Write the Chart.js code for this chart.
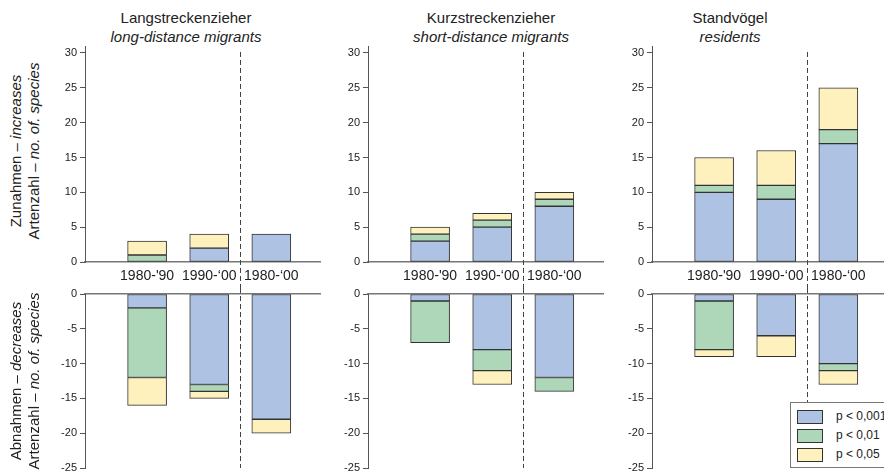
<!DOCTYPE html>
<html><head><meta charset="utf-8">
<script src="https://cdn.jsdelivr.net/npm/chart.js@4.4.0/dist/chart.umd.min.js"></script>
<style>
html,body{margin:0;padding:0}
body{width:884px;height:474px;overflow:hidden;background:#fff;font-family:"Liberation Sans",Arial,sans-serif;position:relative;color:#222}
canvas{position:absolute}
.title{position:absolute;text-align:center;font-size:15px;line-height:19px;white-space:nowrap;transform:translateX(-50%)}
.ylab{position:absolute;width:240px;height:36px;font-size:15px;line-height:18px;white-space:nowrap;text-align:center;transform:translate(-50%,-50%) rotate(-90deg)}
.legend{position:absolute;left:790px;top:402px;width:110px;height:64px;border:1px solid #777;background:#fff}
.legend .row{position:absolute;left:6px;height:14px;font-size:12px;line-height:14px;white-space:nowrap}
.legend .sw{display:inline-block;width:24px;height:12px;border:1px solid #333;vertical-align:middle;margin-right:13px}
i{font-style:italic}
</style></head><body>
<script>
// ---------- data ----------
const periods = ["1980-'90", "1990-\u201800", "1980-\u201800"];
const titlesDe = ['Langstreckenzieher', 'Kurzstreckenzieher', 'Standvögel'];
const titlesEn = ['long-distance migrants', 'short-distance migrants', 'residents'];
const sigLabels = ['p < 0,001', 'p < 0,01', 'p < 0,05'];
const sigColors = ['#aec3e4', '#add7b8', '#fff1be'];
const dividerAt = 2.5;

// increases (number of species)
const incLongP001  = [0, 2, 4];
const incLongP01   = [1, 0, 0];
const incLongP05   = [2, 2, 0];
const incShortP001 = [3, 5, 8];
const incShortP01  = [1, 1, 1];
const incShortP05  = [1, 1, 1];
const incResP001   = [10, 9, 17];
const incResP01    = [1, 2, 2];
const incResP05    = [4, 5, 6];
// decreases (number of species)
const decLongP001  = [-2, -13, -18];
const decLongP01   = [-10, -1, 0];
const decLongP05   = [-4, -1, -2];
const decShortP001 = [-1, -8, -12];
const decShortP01  = [-6, -3, -2];
const decShortP05  = [0, -2, 0];
const decResP001   = [-1, -6, -10];
const decResP01    = [-7, 0, -1];
const decResP05    = [-1, -3, -2];

const incGroups = [[incLongP001, incLongP01, incLongP05],[incShortP001, incShortP01, incShortP05],[incResP001, incResP01, incResP05]];
const decGroups = [[decLongP001, decLongP01, decLongP05],[decShortP001, decShortP01, decShortP05],[decResP001, decResP01, decResP05]];

// ---------- layout ----------
const axisX = [85, 368, 652];
const titleX = [186, 491, 730];
const yAxisW = 40, areaW = 236, xMax = 3.8;
const topAreaTop = 46, topAreaH = 216, bottomAreaTop = 294, bottomAreaH = 174, pad = 12;

function el(tag, cls, html, style){const e=document.createElement(tag); if(cls) e.className=cls; if(html!=null) e.innerHTML=html; if(style) Object.assign(e.style, style); document.body.appendChild(e); return e;}

const dividerPlugin = {
  id: 'divider',
  afterDatasetsDraw(chart, args, opts) {
    const x = Math.round(chart.scales.x.getPixelForValue(dividerAt)) + 0.5;
    const ctx = chart.ctx;
    const y0 = opts.isTop ? chart.scales.y.getPixelForValue(30) - 1 : chart.chartArea.top - 6;
    const y1 = opts.isTop ? chart.chartArea.bottom + 26 : chart.chartArea.bottom;
    ctx.save();
    ctx.setLineDash([5, 3]);
    ctx.strokeStyle = '#444';
    ctx.lineWidth = 1;
    ctx.beginPath(); ctx.moveTo(x, y0); ctx.lineTo(x, y1); ctx.stroke();
    ctx.restore();
  }
};

function makeChart(p, isTop) {
  const c = document.createElement('canvas');
  const h = isTop ? pad + topAreaH + 30 : pad + bottomAreaH + pad;
  c.width = yAxisW + areaW; c.height = h;
  c.style.left = (axisX[p] - yAxisW) + 'px';
  c.style.top = ((isTop ? topAreaTop : bottomAreaTop) - pad) + 'px';
  document.body.appendChild(c);
  const series = isTop ? incGroups[p] : decGroups[p];
  new Chart(c, {
    type: 'bar',
    data: {
      datasets: series.map((vals, k) => ({
        label: sigLabels[k],
        data: vals.map((v, i) => ({x: i + 1, y: v})),
        backgroundColor: sigColors[k],
        borderColor: '#333',
        borderWidth: 1,
        borderSkipped: false,
        barThickness: 39
      }))
    },
    options: {
      responsive: false, animation: false, devicePixelRatio: 1,
      layout: {padding: {top: pad, bottom: isTop ? 0 : pad, left: 0, right: 0}},
      plugins: {legend: {display: false}, tooltip: {enabled: false}, divider: {isTop}},
      scales: {
        x: {
          type: 'linear', min: 0, max: xMax, stacked: true, offset: false,
          position: isTop ? 'bottom' : 'top',
          grid: {display: false, drawTicks: false, offset: false},
          border: {display: true, color: '#777', width: 1.5},
          afterBuildTicks: s => { s.ticks = periods.map((_, i) => ({value: i + 1})); },
          afterFit: s => { s.height = isTop ? 30 : 0; },
          ticks: {display: isTop, autoSkip: false, maxRotation: 0, padding: 6, color: '#222',
                  font: {family: '"Liberation Sans", Arial, sans-serif', size: 14},
                  callback: v => periods[v - 1] ?? ''}
        },
        y: {
          min: isTop ? 0 : -25, max: isTop ? 31 : 0, stacked: true,
          afterFit: s => { s.width = yAxisW; },
          border: {display: true, color: '#555', width: 1},
          grid: {drawOnChartArea: false, drawTicks: true, tickLength: 5, color: '#555'},
          ticks: {stepSize: 5, includeBounds: false, padding: 3, color: '#222',
                  font: {family: '"Liberation Sans", Arial, sans-serif', size: 11}}
        }
      }
    },
    plugins: [dividerPlugin]
  });
}

for (let p = 0; p < 3; p++) {
  el('div', 'title', titlesDe[p] + '<br><i>' + titlesEn[p] + '</i>', {left: titleX[p] + 'px', top: '8px'});
  makeChart(p, true);
  makeChart(p, false);
}
el('div', 'ylab', 'Zunahmen – <i>increases</i><br>Artenzahl – <i>no. of. species</i>', {left: '25px', top: '151px'});
el('div', 'ylab', 'Abnahmen – <i>decreases</i><br>Artenzahl – <i>no. of. species</i>', {left: '25px', top: '381px'});

const lg = el('div', 'legend');
sigLabels.forEach((t, k) => {
  const r = document.createElement('div'); r.className = 'row'; r.style.top = (6 + k * 19) + 'px';
  r.innerHTML = '<span class="sw" style="background:' + sigColors[k] + '"></span>' + t;
  lg.appendChild(r);
});
</script>
</body></html>
